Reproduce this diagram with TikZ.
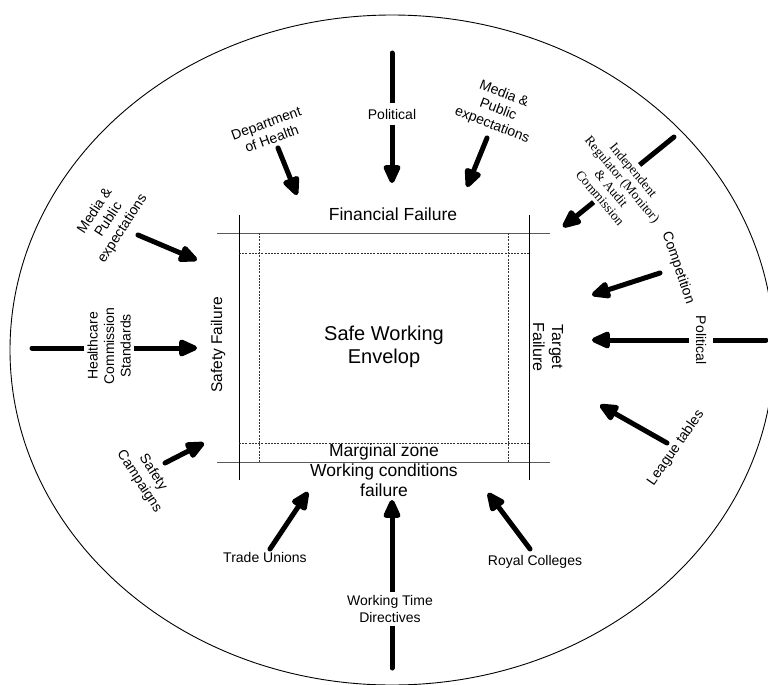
\documentclass[tikz,border=0pt]{standalone}
\usepackage{fontspec}
\setmainfont{Liberation Sans}
\newfontfamily\timesf{Liberation Serif}
\usetikzlibrary{arrows.meta}
\tikzset{
  force/.style={line width=5pt, line cap=round, -{Triangle[length=22pt,width=18pt,round]}},
  bar/.style={line width=5pt, line cap=round},
  lab/.style={font=\fontsize{14}{16.5}\selectfont, align=center, inner sep=1pt},
  cut/.style={fill=white, inner sep=4pt},
  big/.style={font=\fontsize{17.5}{19.5}\selectfont, align=center, inner sep=0pt},
  solidln/.style={line width=0.8pt, black},
  grayln/.style={line width=1pt, black!65},
  dashln/.style={line width=0.6pt, black!80, dash pattern=on 2pt off 1.2pt},
}
\begin{document}
\begin{tikzpicture}[x=1pt,y=-1pt]
\useasboundingbox (0,0) rectangle (768,685);
\clip (0,0) rectangle (768,685);
\fill[white] (0,0) rectangle (768,685);
% outer ellipse
\draw[line width=0.9pt] (392,350) ellipse [x radius=382pt, y radius=335pt];

% envelope box
\draw[grayln] (217,233) -- (550,233);
\draw[grayln] (217,462) -- (550,462);
\draw[solidln] (239,215) -- (239,480);
\draw[solidln] (529,215) -- (529,480);
\draw[dashln] (259,233) -- (259,462);
\draw[dashln] (508,233) -- (508,462);
\draw[dashln] (239,253) -- (529,253);
\draw[dashln] (239,443) -- (529,443);

\node[big] (fin) at (393,214) {Financial Failure};
\node[big, font=\fontsize{20}{23}\selectfont] (swe) at (384,347) {Safe Working\\Envelop};
\node[big] (mz) at (384,452) {Marginal zone};
\node[big] (wcf) at (384,480) {Working conditions\\failure};
\node[big, font=\fontsize{15.5}{18}\selectfont, rotate=90] (sf) at (218,345) {Safety Failure};
\node[big, font=\fontsize{16}{19}\selectfont, rotate=-90] (tf) at (548,347) {Target\\Failure};

% coordinates of arrow ends
\coordinate (polTs) at (392,53);   \coordinate (polTe) at (392,183);
\coordinate (dohs) at (278,148);   \coordinate (dohe) at (297,195);
\coordinate (medTs) at (487,138);  \coordinate (medTe) at (467,187);
\coordinate (inds) at (674,137);   \coordinate (inde) at (563,227);
\coordinate (comps) at (660,273);  \coordinate (compe) at (592,295);
\coordinate (polRs) at (766,340);  \coordinate (polRe) at (592,340);
\coordinate (leas) at (667,443);   \coordinate (leae) at (600,405);
\coordinate (medLs) at (138,235);  \coordinate (medLe) at (197,260);
\coordinate (hcss) at (32,348);    \coordinate (hcse) at (197,348);
\coordinate (safs) at (165,463);   \coordinate (safe) at (204,443);
\coordinate (tus) at (270,549);    \coordinate (tue) at (308,492);
\coordinate (wtds) at (392,668);   \coordinate (wtde) at (392,500);
\coordinate (rcs) at (530,549);    \coordinate (rce) at (488,493);

% arrows
\draw[force] (polTs) -- (polTe);
\draw[force] (dohs) -- (dohe);
\draw[force] (medTs) -- (medTe);
\draw[force] (inds) -- (inde);
\draw[force] (comps) -- (compe);
\draw[force] (polRs) -- (polRe);
\draw[force] (leas) -- (leae);
\draw[force] (medLs) -- (medLe);
\draw[force] (hcss) -- (hcse);
\draw[force] (safs) -- (safe);
\draw[force] (tus) -- (tue);
\draw[force] (wtds) -- (wtde);
\draw[force] (rcs) -- (rce);

% labels
\node[lab, cut, inner ysep=6pt] (polT) at (392,114) {Political};
\node[lab, rotate=20] (doh) at (269,131) {Department\\of Health};
\node[lab, rotate=-21] (medT) at (498,110) {Media \&\\Public\\expectations};
\node[lab, cut, inner sep=3pt, rotate=-50, font=\timesf\fontsize{13.3}{14.5}\selectfont] (ind) at (617,184) {Independent\\Regulator (Monitor)\\\& Audit\\Commission};
\node[lab, rotate=-71] (comp) at (678,268) {Competition};
\node[lab, cut, inner ysep=7pt, rotate=-90] (polR) at (701,340) {Political};
\node[lab, rotate=55] (lea) at (676,448) {League tables};
\node[lab, rotate=57] (medL) at (109,220) {Media \&\\Public\\expectations};
\node[lab, cut, inner ysep=3pt, rotate=90] (hcs) at (109,346) {Healthcare\\Commission\\Standards};
\node[lab, rotate=-57] (saf) at (146,477) {Safety\\Campaigns};
\node[lab] (tu) at (265,557) {Trade Unions};
\node[lab, cut, inner ysep=4pt] (wtd) at (390,609) {Working Time\\Directives};
\node[lab] (rc) at (535,562) {Royal Colleges};
\end{tikzpicture}
\end{document}
